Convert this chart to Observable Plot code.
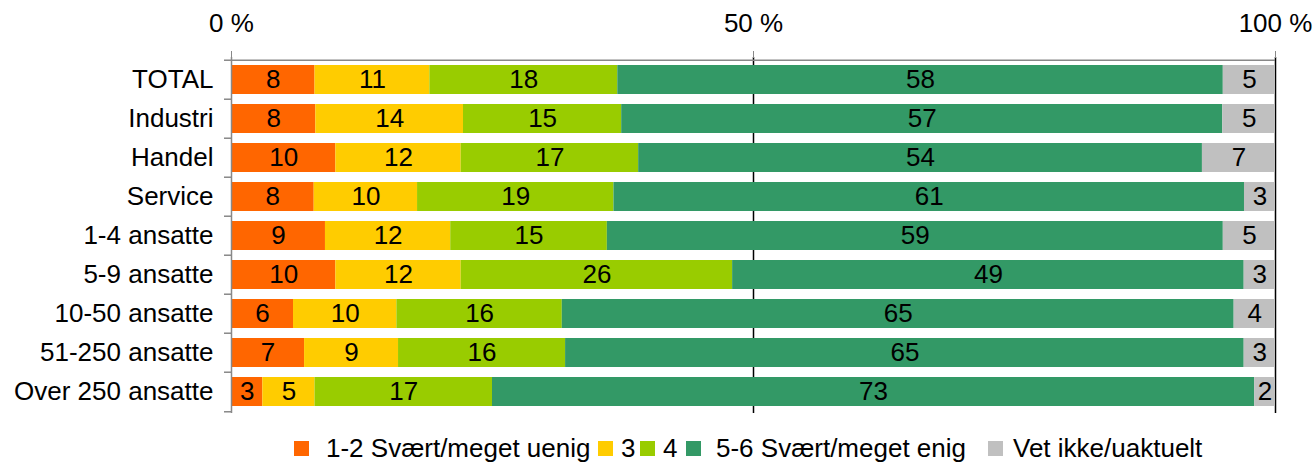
<!DOCTYPE html>
<html>
<head>
<meta charset="utf-8">
<script src="https://cdn.jsdelivr.net/npm/d3@7"></script>
<script src="https://cdn.jsdelivr.net/npm/@observablehq/plot@0.6"></script>
<style>
  html, body { margin: 0; padding: 0; background: #fff; }
  body { width: 1315px; height: 467px; overflow: hidden; font-family: "Liberation Sans", Arial, sans-serif; }
  #chart svg { display: block; }
  #legend { position: relative; height: 42px; font-size: 26px; color: #000; }
  .item { position: absolute; top: 8px; display: flex; align-items: center; white-space: nowrap; }
  .sw { display: inline-block; width: 15px; height: 15px; }
</style>
</head>
<body>
<div id="chart"></div>
<div id="legend"></div>
<script>
const categories = ["TOTAL", "Industri", "Handel", "Service", "1-4 ansatte", "5-9 ansatte", "10-50 ansatte", "51-250 ansatte", "Over 250 ansatte"];
const series = ["1-2 Svært/meget uenig", "3", "4", "5-6 Svært/meget enig", "Vet ikke/uaktuelt"];
const colors = ["#FF6600", "#FFCC00", "#99CC00", "#339966", "#C0C0C0"];
const uenig = [8, 8, 10, 8, 9, 10, 6, 7, 3];
const tre = [11, 14, 12, 10, 12, 12, 10, 9, 5];
const fire = [18, 15, 17, 19, 15, 26, 16, 16, 17];
const enig = [58, 57, 54, 61, 59, 49, 65, 65, 73];
const vetIkke = [5, 5, 7, 3, 5, 3, 4, 3, 2];
const xTicks = [0, 0.5, 1];
const xTickLabels = ["0 %", "50 %", "100 %"];

const seriesValues = [uenig, tre, fire, enig, vetIkke];
const table = [];
series.forEach((s, i) => categories.forEach((c, j) => table.push({cat: c, series: s, value: seriesValues[i][j]})));

const H = 425, mt = 57, mb = 12;
const step = (H - mt - mb) / categories.length;

const stackOpts = {x: "value", y: "cat", z: "series", offset: "normalize", order: series};

const plot = Plot.plot({
  width: 1315,
  height: H,
  marginLeft: 231,
  marginRight: 40,
  marginTop: mt,
  marginBottom: mb,
  style: {fontFamily: "'Liberation Sans', Arial, sans-serif", fontSize: "26px", color: "#000", background: "#fff"},
  x: {domain: [0, 1], axis: null, label: null},
  y: {domain: categories, paddingInner: 0.26, paddingOuter: 0.13, axis: null, label: null},
  color: {domain: series, range: colors},
  marks: [
    Plot.ruleX([0.5, 1], {stroke: "#000", strokeWidth: 1.5}),
    Plot.barX(table, Plot.stackX({...stackOpts, fill: "series"})),
    Plot.text(table, Plot.stackX({...stackOpts, text: "value", fill: "#000", fontSize: 26})),
    Plot.ruleX([0], {stroke: "#888", strokeWidth: 1.5}),
    Plot.ruleY([categories[0]], {dy: -step / 2, stroke: "#888", strokeWidth: 1.5}),
    Plot.ruleY(categories, {dy: -step / 2, x1: -7 / 1044, x2: 0, stroke: "#888", strokeWidth: 1.5}),
    Plot.ruleY([categories[categories.length - 1]], {dy: step / 2, x1: -7 / 1044, x2: 0, stroke: "#888", strokeWidth: 1.5}),
    Plot.axisX({anchor: "top", label: null, ticks: xTicks, tickFormat: (d, i) => xTickLabels[i], tickSize: 7, tickPadding: 19, stroke: "#888", fontSize: 26}),
    Plot.axisY({anchor: "left", label: null, tickSize: 0, tickPadding: 18, fontSize: 26})
  ]
});
document.getElementById("chart").appendChild(plot);

const legend = document.getElementById("legend");
const lefts = [294, 598, 640, 686, 988];
const gaps = [17, 8, 8, 15, 10];
series.forEach((s, i) => {
  const it = document.createElement("div");
  it.className = "item";
  it.style.left = lefts[i] + "px";
  const sw = document.createElement("span");
  sw.className = "sw";
  sw.style.background = colors[i];
  sw.style.marginRight = gaps[i] + "px";
  const t = document.createElement("span");
  t.textContent = s;
  it.appendChild(sw);
  it.appendChild(t);
  legend.appendChild(it);
});
</script>
</body>
</html>
